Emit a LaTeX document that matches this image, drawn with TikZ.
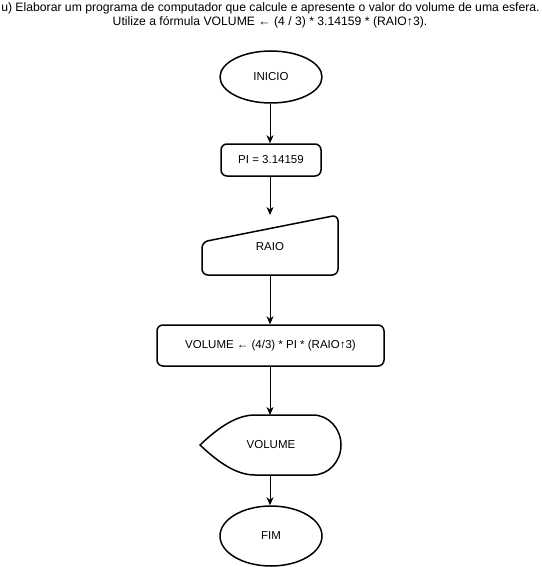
\documentclass[tikz,border=0pt]{standalone}
\usepackage{fontspec}
\setmainfont{Liberation Sans}
\usetikzlibrary{arrows.meta,shapes.geometric}
\begin{document}
\begin{tikzpicture}[x=1pt,y=-1pt,
  shapeline/.style={draw, line width=1.5pt, line join=round},
  terminal/.style={shapeline, ellipse, inner sep=0pt, minimum width=102pt, minimum height=52pt},
  process/.style={shapeline, rectangle, rounded corners=6pt, inner sep=0pt},
  lbl/.style={font=\fontsize{11.5}{13}\selectfont, inner sep=0pt},
  titletext/.style={font=\fontsize{12.2}{14}\selectfont, inner sep=0pt},
  flow/.style={line width=0.9pt, -{Stealth[length=8pt,width=7pt,inset=2.5pt]}}]
\useasboundingbox (0,0) rectangle (541,567);

% heading
\node[titletext] (t1) at (270.5,8) {u) Elaborar um programa de computador que calcule e apresente o valor do volume de uma esfera.};
\node[titletext] (t2) at (270,22) {Utilize a fórmula VOLUME ← (4 / 3) * 3.14159 * (RAIO↑3).};

% start
\node[terminal, lbl] (inicio) at (271,77) {INICIO};

% constant assignment
\node[process, lbl, minimum width=100pt, minimum height=32pt] (pi) at (271,160) {PI = 3.14159};

% manual input
\draw[shapeline, rounded corners=6pt] (202,242) -- (338,215) -- (338,275) -- (202,275) -- cycle;
\node[lbl] (raio) at (270,247) {RAIO};
\coordinate (raiotop) at (270,215);
\coordinate (raiobot) at (270,275);

% volume computation
\node[process, lbl, minimum width=227pt, minimum height=41pt] (vol) at (270.5,345.5) {VOLUME ← (4/3) * PI * (RAIO↑3)};

% display
\draw[shapeline] (200,445) .. controls (218,428) and (236,415) .. (255,415) -- (313,415)
  arc[start angle=-90, end angle=90, x radius=28, y radius=30]
  -- (255,475) .. controls (236,475) and (218,462) .. cycle;
\node[lbl] (disp) at (271,445) {VOLUME};
\coordinate (disptop) at (270,415);
\coordinate (dispbot) at (270,475);

% end
\node[terminal, lbl, minimum height=60pt] (fim) at (271,536) {FIM};

% connectors
\draw[flow] (inicio.south -| 270,0) -- (pi.north -| 270,0);
\draw[flow] (pi.south -| 270,0) -- (raiotop);
\draw[flow] (raiobot) -- (vol.north -| 270,0);
\draw[flow] (vol.south -| 270,0) -- (disptop);
\draw[flow] (dispbot) -- (fim.north -| 270,0);
\end{tikzpicture}
\end{document}
